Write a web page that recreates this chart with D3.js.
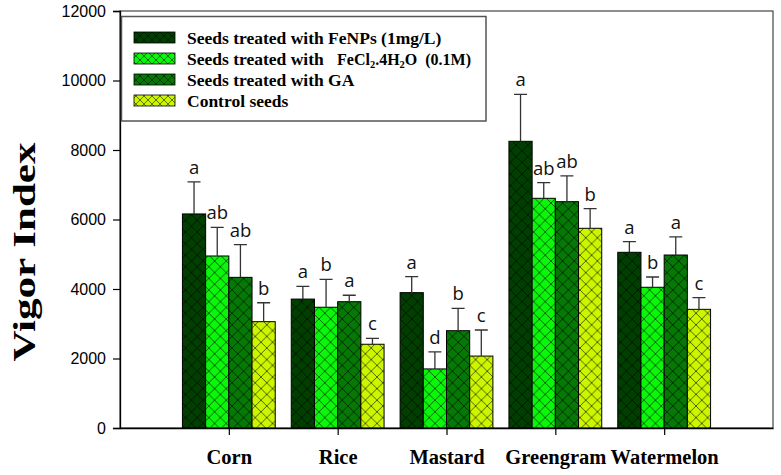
<!DOCTYPE html>
<html>
<head>
<meta charset="utf-8">
<script src="https://cdn.jsdelivr.net/npm/d3@7"></script>
<style>
  html, body { margin: 0; padding: 0; background: #fff; }
  svg { display: block; }
</style>
</head>
<body>
<svg id="chart" width="781" height="475"></svg>
<script>
// ---- data ----
const categories = ["Corn", "Rice", "Mastard", "Greengram", "Watermelon"];
const seriesNames = [
  "Seeds treated with FeNPs (1mg/L)",
  "Seeds treated with FeCl2.4H2O (0.1M)",
  "Seeds treated with GA",
  "Control seeds"
];
const seriesColors = ["#013f01", "#0cf60c", "#067806", "#ccf500"];
const meanFeNPs   = [6160, 3710, 3895, 8250, 5056];
const meanFeCl2   = [4950, 3475, 1700, 6610, 4050];
const meanGA      = [4335, 3635, 2800, 6513, 4978];
const meanControl = [3060, 2410, 2070, 5747, 3415];
const errFeNPs    = [920, 365, 460, 1350, 305];
const errFeCl2    = [825, 800, 490, 450, 295];
const errGA       = [940, 185, 645, 740, 520];
const errControl  = [545, 172, 750, 565, 335];
const lettersFeNPs   = ["a", "a", "a", "a", "a"];
const lettersFeCl2   = ["ab", "b", "d", "ab", "b"];
const lettersGA      = ["ab", "a", "b", "ab", "a"];
const lettersControl = ["b", "c", "c", "b", "c"];
const yTicks = [0, 2000, 4000, 6000, 8000, 10000, 12000];

const means = [meanFeNPs, meanFeCl2, meanGA, meanControl];
const errs = [errFeNPs, errFeCl2, errGA, errControl];
const letters = [lettersFeNPs, lettersFeCl2, lettersGA, lettersControl];

// ---- layout ----
const svg = d3.select("#chart");
const L = 120, R = 773, T = 11, B = 428;

const y = d3.scaleLinear().domain([0, 12000]).range([B, T]);
const x = d3.scalePoint().domain(categories).range([L, R]).padding(1);
const xi = d3.scaleBand().domain(d3.range(4)).range([-46.4, 46.4]);

// hatch patterns
const defs = svg.append("defs");
seriesColors.forEach((c, i) => {
  const p = defs.append("pattern")
    .attr("id", "hatch" + i)
    .attr("patternUnits", "userSpaceOnUse")
    .attr("width", 11.6).attr("height", 11.6);
  p.append("rect").attr("width", 11.6).attr("height", 11.6).attr("fill", c);
  p.append("path")
    .attr("d", "M0,0L11.6,11.6M11.6,0L0,11.6M-1,10.6L1,12.6M10.6,-1L12.6,1")
    .attr("stroke", "#000").attr("stroke-opacity", 0.75).attr("stroke-width", 0.8);
  const p2 = defs.append("pattern")
    .attr("id", "hatchS" + i)
    .attr("patternUnits", "userSpaceOnUse")
    .attr("width", 8).attr("height", 8);
  p2.append("rect").attr("width", 8).attr("height", 8).attr("fill", c);
  p2.append("path")
    .attr("d", "M0,0L8,8M8,0L0,8")
    .attr("stroke", "#000").attr("stroke-opacity", 0.75).attr("stroke-width", 0.7);
});

// frame (top/right)
svg.append("rect")
  .attr("x", L).attr("y", T).attr("width", R - L).attr("height", B - T)
  .attr("fill", "none").attr("stroke", "#444").attr("stroke-width", 1.2);

// bars
const g = svg.append("g");
means.forEach((arr, s) => {
  const gs = g.append("g");
  gs.selectAll("rect").data(categories).join("rect")
    .attr("x", (d) => x(d) + xi(s))
    .attr("y", (d, i) => y(arr[i]))
    .attr("width", xi.bandwidth())
    .attr("height", (d, i) => y(0) - y(arr[i]))
    .attr("fill", "url(#hatch" + s + ")")
    .attr("stroke", "#000").attr("stroke-width", 1);
  // error bars
  gs.selectAll("path.err").data(categories).join("path")
    .attr("class", "err")
    .attr("d", (d, i) => {
      const cx = x(d) + xi(s) + xi.bandwidth() / 2;
      const y0 = y(arr[i]), y1 = y(arr[i] + errs[s][i]);
      return `M${cx},${y0}V${y1}M${cx - 6.5},${y1}H${cx + 6.5}`;
    })
    .attr("stroke", "#333").attr("stroke-width", 1.3).attr("fill", "none");
  gs.selectAll("text").data(categories).join("text")
    .attr("x", (d) => x(d) + xi(s) + xi.bandwidth() / 2)
    .attr("y", (d, i) => y(arr[i] + errs[s][i]) - 8)
    .attr("text-anchor", "middle")
    .attr("font-family", "Open Sans, sans-serif")
    .attr("font-size", 18.5)
    .attr("fill", "#111")
    .text((d, i) => letters[s][i]);
});

// y axis
const yAxis = svg.append("g").attr("transform", `translate(${L},0)`)
  .call(d3.axisLeft(y).tickValues(yTicks).tickFormat(d3.format("d")).tickSize(7).tickPadding(7));
yAxis.select(".domain").attr("stroke", "#000").attr("stroke-width", 1.3);
yAxis.selectAll(".tick line").attr("stroke", "#000").attr("stroke-width", 1.2);
yAxis.selectAll("text").attr("font-family", "Liberation Sans, Arial, sans-serif").attr("font-size", 16).attr("fill", "#000");

// x axis
const xAxis = svg.append("g").attr("transform", `translate(0,${B})`)
  .call(d3.axisBottom(x).tickSize(7).tickPadding(14).tickSizeOuter(0));
xAxis.select(".domain").attr("stroke", "#000").attr("stroke-width", 1.3);
xAxis.selectAll(".tick line").attr("stroke", "#000").attr("stroke-width", 1.2);
xAxis.selectAll("text")
  .attr("font-family", "Liberation Serif, Times New Roman, serif")
  .attr("font-weight", "bold").attr("font-size", 20.5).attr("fill", "#000");

// y title
svg.append("text")
  .attr("transform", "translate(35,252) rotate(-90)")
  .attr("text-anchor", "middle")
  .attr("font-family", "Liberation Serif, Times New Roman, serif")
  .attr("font-weight", "bold").attr("font-size", 31)
  .attr("textLength", 219).attr("lengthAdjust", "spacingAndGlyphs")
  .text("Vigor Index");

// legend
const lg = svg.append("g");
lg.append("rect")
  .attr("x", 121.5).attr("y", 16.5).attr("width", 364.5).attr("height", 104.5)
  .attr("fill", "#fff").attr("stroke", "#555").attr("stroke-width", 1.5);
const rowY = [37.5, 58.5, 79.5, 100.5];
seriesNames.forEach((name, i) => {
  lg.append("rect")
    .attr("x", 134).attr("y", rowY[i] - 5.5).attr("width", 41).attr("height", 11)
    .attr("fill", "url(#hatchS" + i + ")").attr("stroke", "#000").attr("stroke-width", 0.8);
  const t = lg.append("text")
    .attr("x", 187).attr("y", rowY[i] + 6)
    .attr("font-family", "Liberation Serif, Times New Roman, serif")
    .attr("font-weight", "bold").attr("font-size", 17.5).attr("fill", "#000");
  if (i === 1) {
    t.text("Seeds treated with");
    const t2 = lg.append("text")
      .attr("x", 337).attr("y", rowY[i] + 6)
      .attr("font-family", "Liberation Serif, Times New Roman, serif")
      .attr("font-weight", "bold").attr("font-size", 16).attr("fill", "#000")
      .attr("xml:space", "preserve");
    t2.append("tspan").text("FeCl");
    t2.append("tspan").attr("font-size", 10.5).attr("dy", 3).text("2");
    t2.append("tspan").attr("dy", -3).text(".4H");
    t2.append("tspan").attr("font-size", 10.5).attr("dy", 3).text("2");
    t2.append("tspan").attr("dy", -3).text("O  (0.1M)");
  } else {
    t.text(name);
  }
});
</script>
</body>
</html>
